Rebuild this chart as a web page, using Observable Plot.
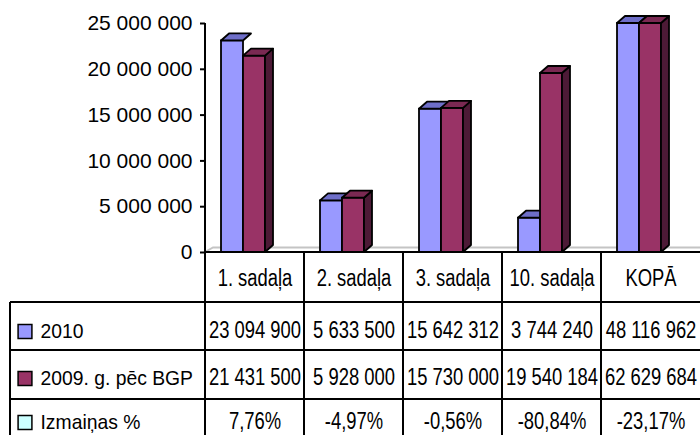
<!DOCTYPE html>
<html><head><meta charset="utf-8">
<script src="https://cdn.jsdelivr.net/npm/d3@7"></script>
<script src="https://cdn.jsdelivr.net/npm/@observablehq/plot@0.6"></script>
<style>html,body{margin:0;padding:0;background:#fff;} #chart svg{display:block;}</style>
</head><body><div id="chart"></div>
<script>
const categories = ["1. sadaļa", "2. sadaļa", "3. sadaļa", "10. sadaļa", "KOPĀ"];
const values2010 = [23094900, 5633500, 15642312, 3744240, 48116962];
const values2009 = [21431500, 5928000, 15730000, 19540184, 62629684];
const changeLabels = ["7,76%", "-4,97%", "-0,56%", "-80,84%", "-23,17%"];
const seriesNames = ["2010", "2009. g. pēc BGP", "Izmaiņas %"];
const yTicks = [0, 5000000, 10000000, 15000000, 20000000, 25000000];

const W = 700, H = 435, ML = 205, MT = 23, MB = 183;
const BW = (W - ML) / categories.length;
const fmt = d => d3.format(",")(d).replace(/,/g, " ");
const sans = "'Liberation Sans', Arial, sans-serif";
const COL = {blue: "#9999FF", blueTop: "#6E6EC8", maroon: "#993366", maroonTop: "#7A2952", maroonSide: "#4D1A36", izm: "#CCFFFF"};
const BAR_W = 22, BLUE_L = 16, DX = 8, DY = -7, SW = 1.8;

const rows2010 = categories.map((c, i) => ({cat: c, v: values2010[i]}));
const rows2009 = categories.map((c, i) => ({cat: c, v: values2009[i]}));

function faces(rows, left, topFill, sideFill) {
  return (index, scales, values, dims) => {
    const g = d3.create("svg:g").attr("stroke", "black").attr("stroke-width", SW).attr("stroke-linejoin", "round");
    const y0 = scales.y(0);
    for (const d of rows) {
      const x0 = scales.x(d.cat) + left, x1 = x0 + BAR_W;
      const yt = Math.max(scales.y(d.v), dims.marginTop);
      if (sideFill) g.append("path").attr("fill", sideFill)
        .attr("d", `M${x1},${yt}L${x1 + DX},${yt + DY}L${x1 + DX},${y0 + DY}L${x1},${y0}Z`);
      g.append("path").attr("fill", topFill)
        .attr("d", `M${x0},${yt}L${x0 + DX},${yt + DY}L${x1 + DX},${yt + DY}L${x1},${yt}Z`);
    }
    return g.node();
  };
}

function floor(index, scales, values, dims) {
  const y0 = scales.y(0), L = dims.marginLeft, R = dims.width - dims.marginRight;
  return d3.create("svg:path").attr("fill", "none").attr("stroke", "#c4c4c4").attr("stroke-width", 2)
    .attr("d", `M${L},${y0}L${L + 8},${y0 - 4.5}L${R},${y0 - 4.5}`).node();
}

function tableGrid(index, scales, values, dims) {
  const g = d3.create("svg:g").attr("stroke", "black").attr("stroke-width", 2).attr("fill", "none");
  const y0 = scales.y(0), L = dims.marginLeft, R = dims.width - dims.marginRight;
  const ln = (a, b, c, d) => g.append("line").attr("x1", a).attr("y1", b).attr("x2", c).attr("y2", d);
  ln(L, dims.marginTop, L, dims.height);
  ln(L, y0, R, y0);
  categories.slice(1).forEach(c => ln(scales.x(c), y0, scales.x(c), dims.height));
  [50, 98, 147].forEach(o => ln(10, y0 + o, R, y0 + o));
  ln(10, y0 + 50, 10, dims.height);
  return g.node();
}

const rowDy = [79, 126, 170];
const rowFills = [COL.blue, COL.maroon, COL.izm];
const rowTexts = [values2010.map(fmt), values2009.map(fmt), changeLabels];

const marks = [
  floor,
  Plot.barY(rows2010, {x: "cat", y: "v", fill: COL.blue, stroke: "black", strokeWidth: SW, insetLeft: BLUE_L, insetRight: BW - BLUE_L - BAR_W}),
  faces(rows2010, BLUE_L, COL.blueTop, null),
  Plot.barY(rows2009, {x: "cat", y: "v", fill: COL.maroon, stroke: "black", strokeWidth: SW, insetLeft: BLUE_L + BAR_W, insetRight: BW - BLUE_L - 2 * BAR_W}),
  faces(rows2009, BLUE_L + BAR_W, COL.maroonTop, COL.maroonSide),
  Plot.axisY(yTicks, {label: null, tickFormat: fmt, tickSize: 5, tickPadding: 8, fontSize: 21, fontFamily: sans, strokeWidth: 2, className: "yax"}),
  tableGrid,
  Plot.text(categories, {x: d => d, frameAnchor: "bottom", lineAnchor: "middle", dy: 26, fontSize: 23, fontFamily: sans, fill: "black", className: "hdr"})
];
rowTexts.forEach((arr, r) => {
  marks.push(Plot.text(categories, {x: d => d, text: (d, i) => arr[i], frameAnchor: "bottom", lineAnchor: "middle", dy: rowDy[r] - 1, fontSize: 23, fontFamily: sans, fill: "black", className: "cell"}));
  marks.push(Plot.dot([seriesNames[r]], {frameAnchor: "bottom-left", dx: -180.5, dy: rowDy[r], symbol: "square", r: 7.8, fill: rowFills[r], stroke: "black", strokeWidth: 1.5}));
  marks.push(Plot.text([seriesNames[r]], {text: d => d, frameAnchor: "bottom-left", lineAnchor: "middle", dx: -165, dy: rowDy[r], textAnchor: "start", fontSize: 21, fontFamily: sans, fill: "black", className: "leg"}));
});

const chart = Plot.plot({
  width: W, height: H,
  marginLeft: ML, marginRight: 0, marginTop: MT, marginBottom: MB,
  style: {fontFamily: sans, background: "#fff", color: "black"},
  x: {type: "band", domain: categories, padding: 0, axis: null},
  y: {domain: [0, 25000000], clamp: true, axis: null},
  marks
});
document.getElementById("chart").appendChild(chart);

// horizontally condense text like the reference (text stays real text)
function squeeze(sel, k) {
  chart.querySelectorAll(sel).forEach(t => {
    const w = t.getComputedTextLength();
    t.setAttribute("textLength", (w * k).toFixed(1));
    t.setAttribute("lengthAdjust", "spacingAndGlyphs");
  });
}
squeeze(".hdr text", 0.8);
squeeze(".cell text", 0.8);
squeeze(".leg text", 0.92);
</script></body></html>
